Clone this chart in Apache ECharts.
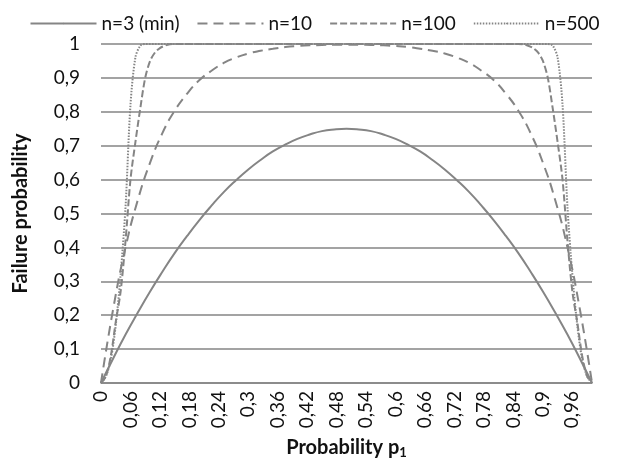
<!DOCTYPE html>
<html>
<head>
<meta charset="utf-8">
<script src="https://cdn.jsdelivr.net/npm/echarts@6/dist/echarts.min.js"></script>
<style>
  html, body { margin: 0; padding: 0; background: #fff; }
  #main { width: 629px; height: 472px; }
</style>
</head>
<body>
<div id="main"></div>
<script>
// n=3 and n=10 share an even grid of probability p1
var pEven = [0, 0.025, 0.05, 0.075, 0.1, 0.125, 0.15, 0.175, 0.2, 0.225, 0.25,
  0.275, 0.3, 0.325, 0.35, 0.375, 0.4, 0.425, 0.45, 0.475, 0.5,
  0.525, 0.55, 0.575, 0.6, 0.625, 0.65, 0.675, 0.7, 0.725, 0.75,
  0.775, 0.8, 0.825, 0.85, 0.875, 0.9, 0.925, 0.95, 0.975, 1];

// failure probability
var failN3 = [0, 0.073, 0.143, 0.208, 0.27, 0.328, 0.383, 0.433, 0.48, 0.523, 0.563,
  0.598, 0.63, 0.658, 0.683, 0.703, 0.72, 0.733, 0.743, 0.748, 0.75,
  0.748, 0.743, 0.733, 0.72, 0.703, 0.683, 0.658, 0.63, 0.598, 0.563,
  0.523, 0.48, 0.433, 0.383, 0.328, 0.27, 0.208, 0.143, 0.073, 0];
var failN10 = [0, 0.22, 0.4, 0.54, 0.65, 0.737, 0.803, 0.853, 0.893, 0.921, 0.944,
  0.96, 0.972, 0.98, 0.986, 0.991, 0.994, 0.996, 0.997, 0.998, 0.998,
  0.998, 0.997, 0.996, 0.994, 0.991, 0.986, 0.98, 0.972, 0.96, 0.944,
  0.921, 0.893, 0.853, 0.803, 0.737, 0.65, 0.54, 0.4, 0.22, 0];

// n=100 and n=500 share a grid that is fine near the edges
var pSteep = [0, 0.01, 0.02, 0.03, 0.04, 0.05, 0.06, 0.07, 0.08, 0.09, 0.1,
  0.11, 0.12, 0.13, 0.14, 0.15, 0.2, 0.3, 0.4, 0.5, 0.6, 0.7, 0.8,
  0.85, 0.86, 0.87, 0.88, 0.89, 0.9, 0.91, 0.92, 0.93, 0.94, 0.95,
  0.96, 0.97, 0.98, 0.99, 1];
var failN100 = [0, 0.02, 0.08, 0.18, 0.27, 0.42, 0.6, 0.71, 0.81, 0.9, 0.95,
  0.975, 0.988, 0.995, 0.999, 1, 1, 1, 1, 1, 1, 1, 1,
  1, 0.999, 0.995, 0.988, 0.975, 0.95, 0.9, 0.81, 0.71, 0.6, 0.42,
  0.27, 0.18, 0.08, 0.02, 0];
var failN500 = [0, 0.02, 0.07, 0.17, 0.32, 0.52, 0.82, 0.96, 0.995, 1, 1,
  1, 1, 1, 1, 1, 1, 1, 1, 1, 1, 1, 1,
  1, 1, 1, 1, 1, 1, 1, 0.995, 0.96, 0.82, 0.52,
  0.32, 0.17, 0.07, 0.02, 0];

var seriesNames = ['n=3 (min)', 'n=10', 'n=100', 'n=500'];
var seriesP = [pEven, pEven, pSteep, pSteep];
var seriesValues = [failN3, failN10, failN100, failN500];
var dashTypes = ['solid', [10, 6], [7, 3], [1.5, 1.5]];
var smoothness = [0.5, 0.5, 0.3, 0.3];

var font = 'Lato, "Liberation Sans", sans-serif';
var lineColor = '#858585';

function commaLabel(v) {
  return String(Math.round(v * 100) / 100).replace('.', ',');
}

var series = seriesNames.map(function (name, i) {
  return {
    name: name,
    type: 'line',
    showSymbol: false,
    symbol: 'none',
    smooth: smoothness[i],
    data: seriesP[i].map(function (p, j) { return [p, seriesValues[i][j]]; }),
    lineStyle: { color: lineColor, width: 2, type: dashTypes[i] },
    itemStyle: { color: lineColor }
  };
});

var chart = echarts.init(document.getElementById('main'));
chart.setOption({
  animation: false,
  textStyle: { fontFamily: font },
  legend: {
    top: 9,
    left: 'center',
    itemWidth: 66,
    itemHeight: 2,
    itemGap: 17,
    textStyle: { fontSize: 19, color: '#111', fontFamily: font },
    data: seriesNames
  },
  grid: { left: 101, right: 37, top: 44, bottom: 89 },
  xAxis: {
    type: 'value',
    min: 0,
    max: 1,
    interval: 0.06,
    name: 'Probability p{sub|1}',
    nameLocation: 'middle',
    nameGap: 53,
    nameTextStyle: {
      fontSize: 20, fontWeight: 'bold', color: '#111', fontFamily: font,
      rich: { sub: { fontSize: 13, fontWeight: 'bold', color: '#111', padding: [10, 0, 0, 0] } }
    },
    axisLine: { show: true, lineStyle: { color: lineColor, width: 1.5 } },
    axisTick: { show: false },
    splitLine: { show: false },
    axisLabel: {
      rotate: 90, margin: 8, fontSize: 19, color: '#111',
      showMaxLabel: false,
      formatter: commaLabel
    }
  },
  yAxis: {
    type: 'value',
    min: 0,
    max: 1,
    interval: 0.1,
    name: 'Failure probability',
    nameLocation: 'middle',
    nameGap: 70,
    nameTextStyle: { fontSize: 20, fontWeight: 'bold', color: '#111', fontFamily: font },
    axisLine: { show: false },
    axisTick: { show: false },
    splitLine: { lineStyle: { color: lineColor, width: 1.5 } },
    axisLabel: { margin: 21, fontSize: 19, color: '#111', formatter: commaLabel }
  },
  series: series
});
</script>
</body>
</html>
